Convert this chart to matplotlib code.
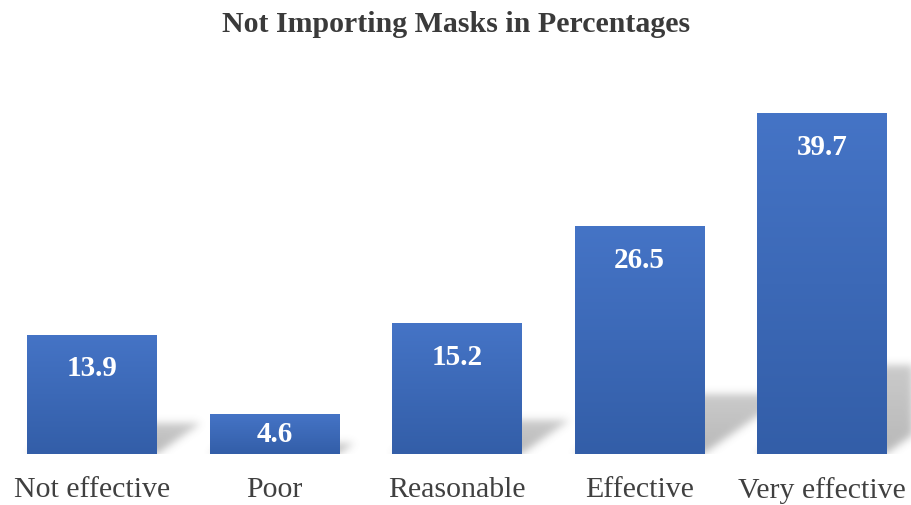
import numpy as np
import matplotlib
matplotlib.use('Agg')
import matplotlib.pyplot as plt

# Survey responses, percent
categories = ['Not effective', 'Poor', 'Reasonable', 'Effective', 'Very effective']
values = [13.9, 4.6, 15.2, 26.5, 39.7]
title = 'Not Importing Masks in Percentages'

TOP_BLUE = np.array([69, 116, 198]) / 255
BOTTOM_BLUE = np.array([51, 94, 168]) / 255
BAR_W = 0.71
YMAX = 41.33

plt.rcParams['font.family'] = ['Liberation Serif', 'DejaVu Serif']

fig = plt.figure(figsize=(9.12, 5.06), dpi=100)
ax = fig.add_axes([1 / 912, 51 / 506, 912 / 912, 355 / 506])
ax.set_xlim(-0.5, 4.5)
ax.set_ylim(0, YMAX)

x = np.arange(len(categories))
bars = ax.bar(x, values, width=BAR_W, color=TOP_BLUE, zorder=3)


def blur(img, sigma):
    r = int(3 * sigma)
    k = np.exp(-0.5 * (np.arange(-r, r + 1) / sigma) ** 2)
    k /= k.sum()
    img = np.apply_along_axis(lambda m: np.convolve(m, k, mode='same'), 0, img)
    img = np.apply_along_axis(lambda m: np.convolve(m, k, mode='same'), 1, img)
    return img


# soft perspective shadow falling up and to the right of each bar
nx, ny = 912, 355
gx = np.linspace(-0.5, 4.5, nx)
gy = np.linspace(0, YMAX, ny)
X, Y = np.meshgrid(gx, gy)
alpha = np.zeros_like(X)
for b, v in zip(bars, values):
    x0, x1 = b.get_x(), b.get_x() + b.get_width()
    sh = 0.26 * v
    dx = 0.0175 * v
    t = np.clip(Y / sh, 0, None)
    inside = (Y <= sh) & (X >= x0 + dx * t) & (X <= x1 + dx * t)
    alpha = np.maximum(alpha, np.where(inside, 0.48 * (1 - 0.25 * t), 0))
alpha = blur(alpha, 4.0)
shadow = np.zeros((ny, nx, 4))
shadow[..., :3] = 0.42
shadow[..., 3] = alpha
ax.imshow(shadow, extent=(-0.5, 4.5, 0, YMAX), origin='lower', aspect='auto',
          interpolation='bilinear', zorder=1)

# vertical gradient fill, clipped to each bar
grad = np.linspace(0, 1, 256)[:, None, None]
grad_img = BOTTOM_BLUE * (1 - grad) + TOP_BLUE * grad
for b in bars:
    im = ax.imshow(grad_img, extent=(b.get_x(), b.get_x() + b.get_width(), 0, b.get_height()),
                   origin='lower', aspect='auto', zorder=4)
    im.set_clip_path(b)

for xi, v in zip(x, values):
    ypos = max(v - 3.5, v / 2 + 0.4)
    ax.text(xi, ypos, f'{v}', ha='center', va='center_baseline', color='white',
            fontsize=21, fontweight='bold', zorder=5)

ax.set_xticks(x)
ax.set_xticklabels(categories, fontsize=21.5, color='#404040')
ax.tick_params(axis='x', length=0, pad=16)
ax.set_yticks([])
for s in ax.spines.values():
    s.set_visible(False)

fig.text(0.5, 1 - 25 / 506, title, ha='center', va='center', fontsize=21.5,
         fontweight='bold', color='#3a3a3a')

fig.savefig('out.png', dpi=100, facecolor='white')
